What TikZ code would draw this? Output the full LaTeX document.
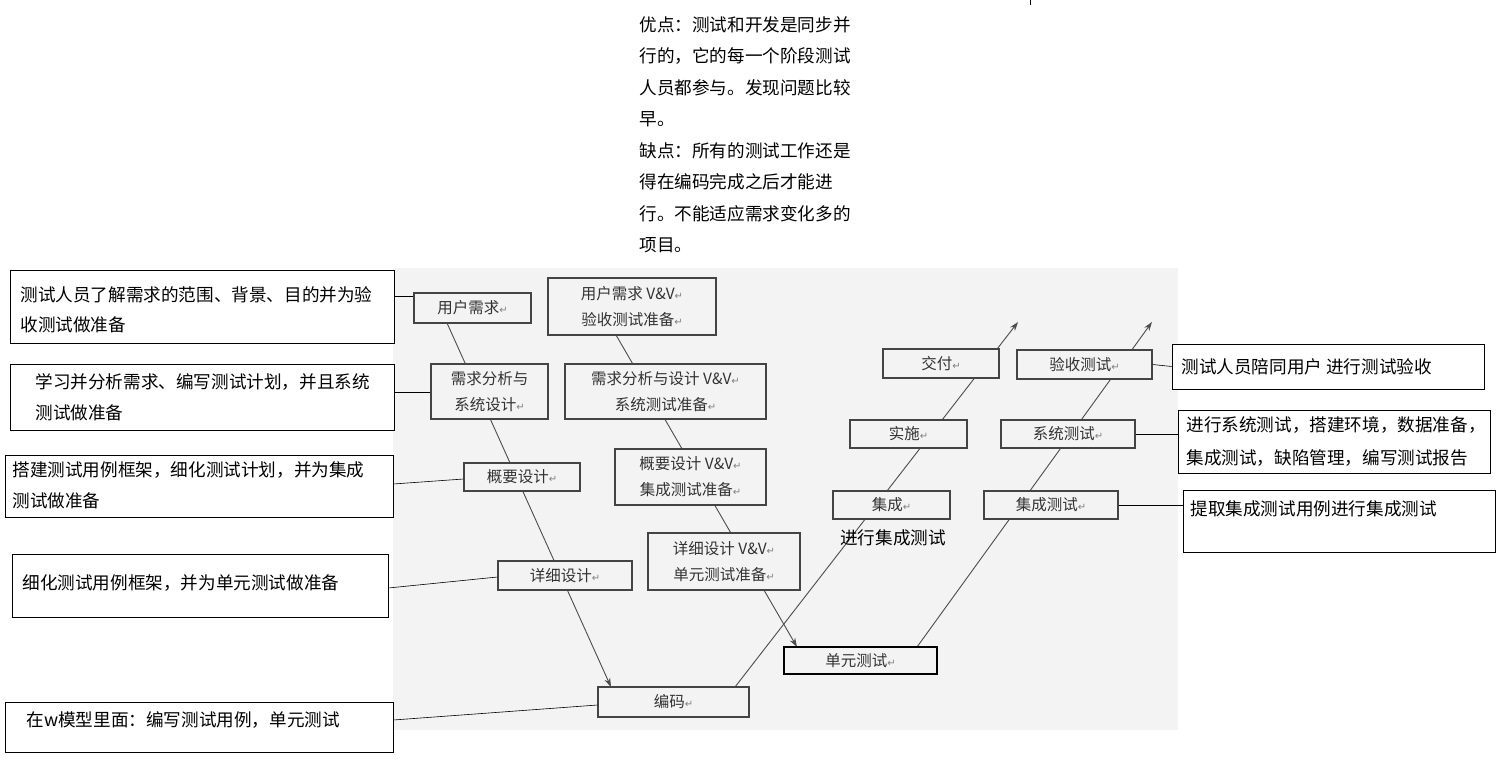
\documentclass[tikz,border=0pt]{standalone}
\usepackage{fontspec}
\setmainfont{Noto Sans CJK SC}
\newfontfamily\djvfont{DejaVu Sans}
\usetikzlibrary{arrows.meta}
\definecolor{bgc}{HTML}{F3F3F3}
\definecolor{boxline}{HTML}{444444}
\newcommand{\ret}{{\djvfont\color{gray}\fontsize{10}{10}\selectfont ↵}}
\tikzset{
  vbox/.style={draw=boxline,line width=1.1pt,fill=bgc,inner sep=0pt,font=\fontsize{15.5}{26}\selectfont,text=black!80,align=center},
  note/.style={draw=black,line width=0.6pt,fill=white,inner sep=0pt},
  vline/.style={draw=black!70,line width=0.9pt},
  cline/.style={draw=black,line width=0.6pt},
  arr/.style={vline,-{Stealth[length=9pt,width=6pt]}},
  ntext/.style={anchor=west,font=\fontsize{17.6}{17.6}\selectfont},
}
\begin{document}
\begin{tikzpicture}[x=1pt,y=-1pt]
\useasboundingbox (0,0) rectangle (1502,774);
\fill[bgc] (393,268) rectangle (1178,730);
\draw[cline] (1030,0) -- (1030,5);
% top text
\foreach \t [count=\i] in {优点：测试和开发是同步并,行的，它的每一个阶段测试,人员都参与。发现问题比较,早。,缺点：所有的测试工作还是,得在编码完成之后才能进,行。不能适应需求变化多的,项目。}
  \node[ntext] (top\i) at (636,{25+31.4*(\i-1)}) {\t};
% V lines (named coordinates)
\coordinate (l0) at (447,323); \coordinate (l1) at (611,687);
\coordinate (m0) at (616,335); \coordinate (m1) at (797,647);
\coordinate (r0) at (735,687); \coordinate (r1) at (1018,322);
\coordinate (s0) at (917,647); \coordinate (s1) at (1152,322);
\draw[arr] (l0) -- (l1);
\draw[arr] (m0) -- (m1);
\draw[arr] (r0) -- (r1);
\draw[arr] (s0) -- (s1);
% left V boxes
\node[vbox,minimum width=117pt,minimum height=30pt] (yh) at (472.5,308) {用户需求\ret};
\node[vbox,minimum width=117pt,minimum height=55pt] (xq) at (489.5,391.5) {需求分析与\\系统设计\ret};
\node[vbox,minimum width=116pt,minimum height=28pt] (gy) at (522,477) {概要设计\ret};
\node[vbox,minimum width=134pt,minimum height=29pt] (xx) at (565,575.5) {详细设计\ret};
\node[vbox,minimum width=151pt,minimum height=30pt] (bm) at (673.5,702) {编码\ret};
% middle boxes
\node[vbox,minimum width=168pt,minimum height=57pt] (yhv) at (632,306.5) {用户需求 V\&V\ret\\验收测试准备\ret};
\node[vbox,minimum width=201pt,minimum height=55pt] (xqv) at (665.5,391.5) {需求分析与设计 V\&V\ret\\系统测试准备\ret};
\node[vbox,minimum width=151pt,minimum height=56pt] (gyv) at (690.5,477) {概要设计 V\&V\ret\\集成测试准备\ret};
\node[vbox,minimum width=152pt,minimum height=57pt] (xxv) at (724,561.5) {详细设计 V\&V\ret\\单元测试准备\ret};
\node[vbox,draw=black,line width=2.4pt,minimum width=153pt,minimum height=27pt] (dy) at (860.5,660.5) {单元测试\ret};
% right boxes
\node[vbox,minimum width=117pt,minimum height=28pt] (jc) at (891.5,505) {集成\ret};
\node[vbox,minimum width=117pt,minimum height=28pt] (ss) at (908.5,434) {实施\ret};
\node[vbox,minimum width=116pt,minimum height=29pt] (jf) at (941,363.5) {交付\ret};
\node[vbox,minimum width=134pt,minimum height=28pt] (jct) at (1051,505) {集成测试\ret};
\node[vbox,minimum width=134pt,minimum height=28pt] (xt) at (1068,434) {系统测试\ret};
\node[vbox,minimum width=135pt,minimum height=29pt] (ys) at (1084.5,364.5) {验收测试\ret};
\node[font=\fontsize{17.6}{17.6}\selectfont] (jclabel) at (893,538) {进行集成测试};
% left notes
\node[note,minimum width=384pt,minimum height=73pt] (n1) at (202,306.5) {};
\node[ntext] at (17,295) {测试人员了解需求的范围、背景、目的并为验};
\node[ntext] at (17,325) {收测试做准备};
\node[note,minimum width=384pt,minimum height=66pt] (n2) at (202,397) {};
\node[ntext] at (32,382) {学习并分析需求、编写测试计划，并且系统};
\node[ntext] at (32,413) {测试做准备};
\node[note,minimum width=388pt,minimum height=62pt] (n3) at (199,486) {};
\node[ntext] at (9,470) {搭建测试用例框架，细化测试计划，并为集成};
\node[ntext] at (9,501) {测试做准备};
\node[note,minimum width=376pt,minimum height=63pt] (n4) at (200,585.5) {};
\node[ntext] at (19,583) {细化测试用例框架，并为单元测试做准备};
\node[note,minimum width=388pt,minimum height=50pt] (n5) at (199,727) {};
\node[ntext] at (23,720) {在w模型里面：编写测试用例，单元测试};
% right notes
\node[note,minimum width=312pt,minimum height=45pt] (n6) at (1328,366.5) {};
\node[ntext] at (1178,367) {测试人员陪同用户 进行测试验收};
\node[note,minimum width=312pt,minimum height=63pt] (n7) at (1334,441.5) {};
\node[ntext] at (1183,425) {进行系统测试，搭建环境，数据准备，};
\node[ntext] at (1183,458) {集成测试，缺陷管理，编写测试报告};
\node[note,minimum width=312pt,minimum height=62pt] (n8) at (1339,521) {};
\node[ntext] at (1187,509) {提取集成测试用例进行集成测试};
% connectors
\draw[cline] (n1.east |- 0,296) -- (yh.west |- 0,296);
\draw[cline] (n2.east |- 0,392) -- (xq.west |- 0,392);
\draw[cline] (n3.east |- 0,484) -- (gy.west |- 0,479);
\draw[cline] (n4.east |- 0,588) -- (xx.west |- 0,577);
\draw[cline] (n5.east |- 0,720) -- (bm.west |- 0,705);
\draw[cline] (ys.east) -- (n6.west);
\draw[cline] (xt.east) -- (n7.west |- xt.east);
\draw[cline] (jct.east) -- (n8.west |- jct.east);
\end{tikzpicture}
\end{document}
